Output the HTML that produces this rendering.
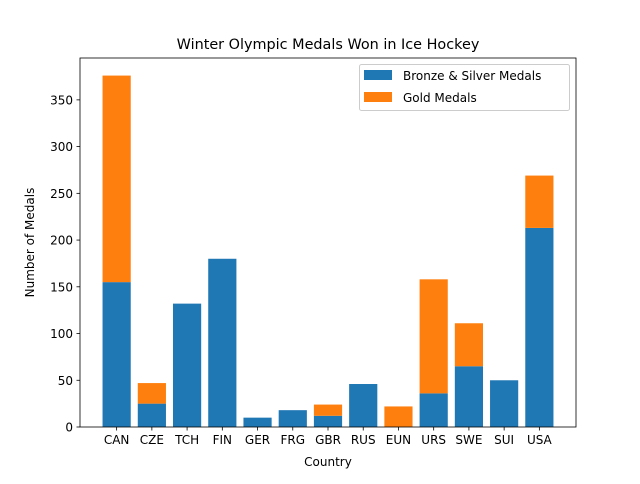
<!DOCTYPE html>
<html><head><meta charset="utf-8"><style>
body{margin:0;background:#fff;font-family:"DejaVu Sans","Liberation Sans",sans-serif;}
svg text{font-family:"DejaVu Sans","Liberation Sans",sans-serif;}
</style></head><body>
<svg id="chart" width="640" height="480" xmlns="http://www.w3.org/2000/svg">
<rect width="640" height="480" fill="#fff"/>
<text x="328" y="49" font-size="14.4" text-anchor="middle">Winter Olympic Medals Won in Ice Hockey</text>
<g id="bars"></g>
<rect x="80" y="58" width="496" height="369" fill="none" stroke="#000" stroke-width="0.8"/>
<g id="axes"></g>
<text x="328" y="466" font-size="12" text-anchor="middle">Country</text>
<text transform="translate(34,242.5) rotate(-90)" font-size="12" text-anchor="middle">Number of Medals</text>
<g>
<rect x="359.5" y="64.5" width="210" height="46" fill="#fff" fill-opacity="0.8" stroke="#ccc" rx="2"/>
<rect x="364" y="70" width="28" height="10" fill="#1f77b4"/>
<text x="403" y="80" font-size="12">Bronze &amp; Silver Medals</text>
<rect x="364" y="92" width="28" height="10" fill="#ff7f0e"/>
<text x="403" y="102" font-size="12">Gold Medals</text>
</g>
</svg>
<script>
const categories=["CAN","CZE","TCH","FIN","GER","FRG","GBR","RUS","EUN","URS","SWE","SUI","USA"];
const bronzeSilver=[155,25,132,180,10,18,12,46,0,36,65,50,213];
const gold=[221,22,0,0,0,0,12,0,22,122,46,0,56];
const yTicks=[0,50,100,150,200,250,300,350];
const NS="http://www.w3.org/2000/svg";
const L=80,R=576,T=58,B=427;
const totals=categories.map((c,i)=>bronzeSilver[i]+gold[i]);
const ymax=Math.max(...totals)*1.05;
const xmin=-0.4-0.64,xmax=categories.length-1+0.4+0.64;
const sx=v=>L+(v-xmin)/(xmax-xmin)*(R-L);
const sy=v=>B-v/ymax*(B-T);
const bw=0.8*(R-L)/(xmax-xmin);
const bars=document.getElementById('bars'),axes=document.getElementById('axes');
function mk(tag,attrs,parent){const e=document.createElementNS(NS,tag);for(const k in attrs)e.setAttribute(k,attrs[k]);parent.appendChild(e);return e;}
categories.forEach((c,i)=>{
 const x=sx(i)-bw/2;
 const b=mk('rect',{x:x,y:sy(bronzeSilver[i]),width:bw,height:sy(0)-sy(bronzeSilver[i]),fill:'#1f77b4'},bars);
 
 
 const g=mk('rect',{x:x,y:sy(totals[i]),width:bw,height:sy(bronzeSilver[i])-sy(totals[i]),fill:'#ff7f0e'},bars);
 
 
 mk('line',{x1:sx(i),x2:sx(i),y1:B,y2:B+3.5,stroke:'#000','stroke-width':0.8},axes);
 const t=mk('text',{x:sx(i),y:B+17,'font-size':12,'text-anchor':'middle'},axes);
 t.textContent=c;
 
 
});
yTicks.forEach(v=>{
 mk('line',{x1:L-3.5,x2:L,y1:sy(v),y2:sy(v),stroke:'#000','stroke-width':0.8},axes);
 const t=mk('text',{x:L-7,y:sy(v)+4.5,'font-size':12,'text-anchor':'end'},axes);
 t.textContent=v;
 
 
});
</script>
</body></html>
